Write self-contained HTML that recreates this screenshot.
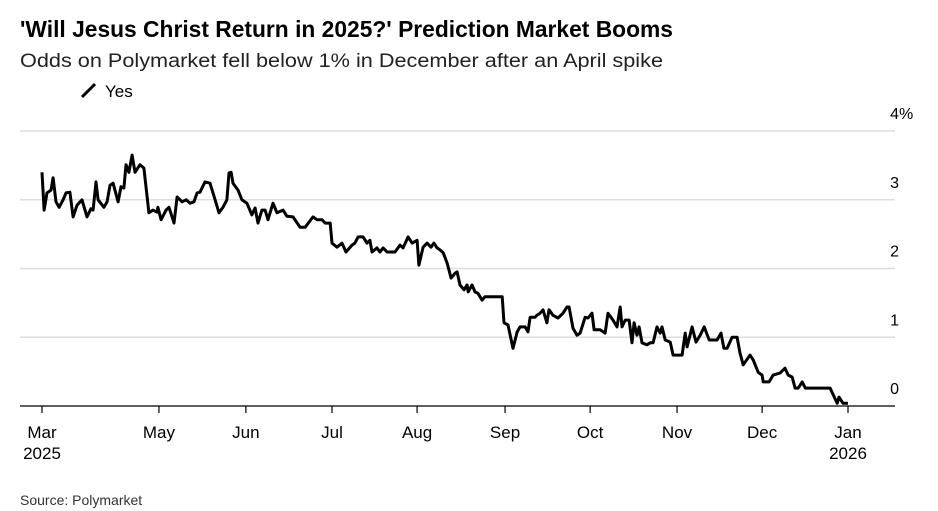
<!DOCTYPE html>
<html><head><meta charset="utf-8"><style>
body{margin:0;background:#fff;font-family:"Liberation Sans",Arial,sans-serif;}
svg{display:block}
</style></head><body>
<svg width="938" height="511" id="chart" font-family="Liberation Sans, Arial, sans-serif">
<text x="20" y="37" font-size="23" font-weight="bold" fill="#000" textLength="653" lengthAdjust="spacingAndGlyphs">'Will Jesus Christ Return in 2025?' Prediction Market Booms</text>
<text x="20" y="67" font-size="19" fill="#222" textLength="643" lengthAdjust="spacingAndGlyphs">Odds on Polymarket fell below 1% in December after an April spike</text>
<g>
<line x1="82" y1="97" x2="95" y2="84" stroke="#000" stroke-width="3"/>
<text x="105" y="97" font-size="17" fill="#000">Yes</text>
</g>
<g id="grid"></g><g id="yaxis"></g><g id="xaxis"></g>
<path id="line" fill="none" stroke="#000" stroke-width="3" stroke-linejoin="round"/>
<text x="20" y="505" font-size="14" fill="#333">Source: Polymarket</text>
</svg>
<script>
const days=[0,0.8,1.9,3.4,4.2,5.3,6.5,8.0,9.1,10.6,11.8,13.3,15.2,17.1,18.6,19.4,20.5,21.3,23.5,24.7,25.8,27.0,28.9,30.0,31.1,31.9,33.0,34.2,35.3,37.2,38.7,40.6,42.1,43.7,44.0,45.2,47.1,48.2,50.1,51.3,53.2,54.7,56.2,57.7,58.9,60.0,61.9,63.8,65.7,67.2,68.7,70.2,71.0,71.8,72.5,74.4,75.9,77.8,79.7,80.9,82.0,83.5,84.7,85.8,87.7,89.2,91.5,93.0,95.3,
98.0,99.9,102.9,104.4,106.3,107.5,109.4,110.1,112.0,113.9,115.4,117.7,118.8,120.0,121.9,123.4,124.5,125.3,127.2,128.3,129.5,131.0,134.0,135.9,137.1,139.0,140.5,142.4,143.1,144.7,146.2,147.7,148.8,150.0,151.1,152.3,153.8,155.3,156.8,157.6,158.7,160.2,161.4,161.8,163.3,164.4,165.5,167.1,168.2,174.7,175.4,176.9,178.8,180.4,181.5,183.4,184.5,185.3,187.2,187.9,189.1,190.2,191.7,192.5,194.0,195.9,197.8,199.3,200.1,201.6,203.1,
204.3,206.2,207.3,208.8,209.6,211.9,213.8,214.9,216.8,218.3,219.5,220.2,221.4,222.9,224.0,224.8,225.9,226.7,227.8,229.7,230.9,232.0,233.5,234.7,235.4,236.6,238.5,239.6,243.0,244.2,244.9,246.8,248.3,249.9,251.4,253.3,256.3,257.8,258.9,260.1,262.0,263.9,265.0,266.2,268.8,270.0,271.9,273.4,273.8,276.0,277.6,280.2,282.1,283.3,284.8,285.9,287.1,288.6,289.8,299.2,301.9,302.6,304.1,306.0];
const yesValues=[3.40,2.85,3.10,3.14,3.32,2.97,2.89,3.00,3.10,3.11,2.75,2.92,3.00,2.75,2.87,2.85,3.26,3.00,2.89,2.97,3.21,3.24,2.97,3.19,3.17,3.51,3.40,3.65,3.40,3.51,3.46,2.81,2.85,2.82,2.89,2.71,2.85,2.89,2.66,3.04,2.97,3.00,2.95,2.97,3.10,3.11,3.26,3.24,3.00,2.81,2.89,3.00,3.39,3.40,3.24,3.14,3.00,2.95,2.78,2.88,2.66,2.85,2.85,2.71,2.95,2.81,2.85,2.76,2.75,
2.60,2.60,2.75,2.71,2.71,2.66,2.66,2.37,2.31,2.37,2.24,2.34,2.37,2.46,2.46,2.37,2.41,2.24,2.30,2.24,2.30,2.24,2.24,2.34,2.30,2.46,2.37,2.41,2.05,2.31,2.37,2.31,2.37,2.30,2.27,2.23,2.08,1.86,1.93,1.95,1.76,1.69,1.76,1.66,1.76,1.66,1.64,1.54,1.59,1.59,1.21,1.18,0.84,1.08,1.15,1.15,1.08,1.29,1.29,1.32,1.35,1.40,1.21,1.40,1.32,1.28,1.35,1.44,1.44,1.13,1.03,
1.06,1.29,1.28,1.35,1.11,1.11,1.06,1.35,1.25,1.15,1.44,1.15,1.25,1.25,0.92,1.21,1.03,1.15,0.92,0.89,0.92,0.92,1.15,1.06,1.15,0.96,0.93,0.74,0.74,1.06,0.86,1.15,0.93,1.03,1.15,0.96,0.96,1.06,0.84,0.84,1.00,1.00,0.77,0.60,0.74,0.67,0.49,0.45,0.35,0.35,0.45,0.48,0.55,0.45,0.42,0.26,0.26,0.35,0.26,0.26,0.04,0.13,0.04,0.04];
const yTicks=[0,1,2,3,4];
const yTickLabels=["0","1","2","3","4"];
const monthNames=["Mar","May","Jun","Jul","Aug","Sep","Oct","Nov","Dec","Jan"];
const monthDays=[0,44.4,77.4,110.1,142.4,175.8,208.1,241.1,273.4,306];

const X0=42,X1=848,Y0=406,YPER=68.75;
const xScale=d=>X0+d*(X1-X0)/306;
const yScale=v=>Y0-v*YPER;
const NS="http://www.w3.org/2000/svg";
function mk(tag,attrs,parent){const e=document.createElementNS(NS,tag);for(const k in attrs)e.setAttribute(k,attrs[k]);parent.appendChild(e);return e;}
const grid=document.getElementById('grid'),ya=document.getElementById('yaxis'),xa=document.getElementById('xaxis');
yTicks.forEach((t,i)=>{
  const y=yScale(t);
  const gl=mk('line',{x1:20,x2:895,y1:y,y2:y,stroke:t===0?'#000':'#ddd','stroke-width':t===0?1.2:1.5},grid);
  
  
  const tx=mk('text',{x:899,y:y-12,'font-size':16,'text-anchor':'end',fill:'#000'},ya);
  tx.textContent=yTickLabels[i];
  
  
  if(t===4){const p=mk('text',{x:899,y:y-12,'font-size':16,fill:'#000'},ya);p.textContent='%';
    
    }
});
monthDays.forEach((d,i)=>{
  const x=xScale(d);
  const tk=mk('line',{x1:x,x2:x,y1:Y0,y2:Y0+7,stroke:'#000','stroke-width':1.2},xa);
  
  
  const t=mk('text',{x:x,y:438,'font-size':17,'text-anchor':'middle',fill:'#000'},xa);
  t.textContent=monthNames[i];
  
  
});
[["2025",0],["2026",306]].forEach(([yr,d])=>{
  const t=mk('text',{x:xScale(d),y:459,'font-size':17,'text-anchor':'middle',fill:'#000'},xa);
  t.textContent=yr;
  
  
});
document.getElementById('line').setAttribute('d',days.map((d,i)=>(i?'L':'M')+xScale(d).toFixed(1)+','+yScale(yesValues[i]).toFixed(1)).join(''));
</script>
</body></html>
